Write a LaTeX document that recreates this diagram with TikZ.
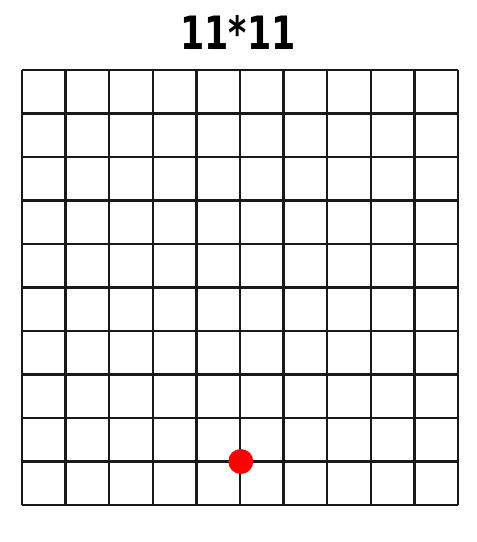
\documentclass[tikz,border=0pt]{standalone}
\usepackage{fontspec}
\setmainfont{DejaVu Sans}
\begin{document}
\begin{tikzpicture}[x=1pt,y=-1pt]
\useasboundingbox (0,0) rectangle (477,542);
\tikzset{gridline/.style={line width=2.3pt,black!90}}
\node[xscale=0.85,yscale=1.12] (title) at (238,32) {\fontsize{41}{41}\selectfont\bfseries 11*11};
\foreach \i in {0,...,10}{
  \draw[gridline] ({22+\i*43.6},70) -- ({22+\i*43.6},505);
  \draw[gridline] (22,{70+\i*43.5}) -- (458,{70+\i*43.5});
}
\fill[red] (240.8,461.5) circle (12.5);
\end{tikzpicture}
\end{document}
